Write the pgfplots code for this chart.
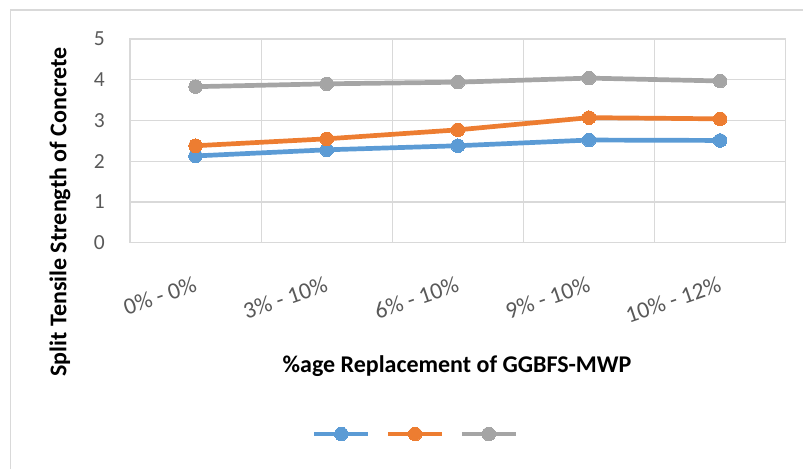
\documentclass[border=0pt]{standalone}
\usepackage{fontspec}
\setmainfont{Carlito}
\usepackage{pgfplots}
\pgfplotsset{compat=1.18}
\definecolor{cblue}{HTML}{5B9BD5}
\definecolor{corange}{HTML}{ED7D31}
\definecolor{cgray}{HTML}{A5A5A5}
\definecolor{gridgray}{HTML}{D9D9D9}
\definecolor{ticktext}{HTML}{595959}
\begin{document}
\begin{tikzpicture}
\path[use as bounding box] (-130pt,-226.3pt) rectangle (673pt,242.7pt);
\draw[gridgray, line width=1.5pt] (-119.5pt,-226.3pt) -- (-119.5pt,232.7pt) -- (673pt,232.7pt);
\begin{axis}[
  scale only axis,
  width=655.7pt, height=203.7pt,
  xmin=-0.5, xmax=4.5, ymin=0, ymax=5,
  xtick={0,1,2,3,4},
  xticklabels={0\% - 0\%, 3\% - 10\%, 6\% - 10\%, 9\% - 10\%, 10\% - 12\%},
  minor xtick={-0.5,0.5,1.5,2.5,3.5,4.5},
  ytick={0,1,2,3,4,5},
  xminorgrids=true, ymajorgrids=true, xmajorgrids=false,
  grid style={gridgray, line width=1.2pt},
  minor grid style={gridgray, line width=1.2pt},
  axis line style={gridgray, line width=1.2pt},
  major tick length=0pt, minor tick length=0pt,
  /pgf/number format/assume math mode=true,
  tick label style={font=\fontsize{21.5}{25}\selectfont, text=ticktext},
  yticklabel style={anchor=east, inner sep=0pt},
  yticklabel shift=25pt,
  xticklabel style={rotate=19, anchor=east, inner sep=0pt, font=\fontsize{23.5}{27}\selectfont},
  xticklabel shift=41pt,
  xlabel={\%age Replacement of GGBFS-MWP},
  ylabel={Split Tensile Strength of Concrete},
  label style={font=\bfseries\fontsize{24}{28}\selectfont, text=black},
  xlabel style={at={(axis description cs:0.4988,-0.605)}, anchor=center},
  ylabel style={at={(axis description cs:-0.1068,0.1507)}, anchor=center},
  legend columns=3,
  legend style={at={(axis description cs:0.4355,-0.939)}, anchor=center, draw=none, fill=none,
    nodes={inner sep=0pt}, /tikz/every even column/.append style={column sep=14pt}},
  legend image code/.code={\draw[mark repeat=2, mark phase=2, #1] plot coordinates {(0pt,0pt) (27pt,0pt) (54pt,0pt)};},
  every axis plot/.append style={line width=4.7pt, mark=*, mark size=6.8pt},
]
\addplot[cblue, mark options={fill=cblue, draw=cblue, line width=0pt}] coordinates {(0,2.13) (1,2.28) (2,2.38) (3,2.52) (4,2.51)};
\addlegendentry{}
\addplot[corange, mark options={fill=corange, draw=corange, line width=0pt}] coordinates {(0,2.38) (1,2.55) (2,2.77) (3,3.07) (4,3.04)};
\addlegendentry{}
\addplot[cgray, mark options={fill=cgray, draw=cgray, line width=0pt}] coordinates {(0,3.83) (1,3.90) (2,3.94) (3,4.04) (4,3.97)};
\addlegendentry{}
\end{axis}
\end{tikzpicture}
\end{document}
